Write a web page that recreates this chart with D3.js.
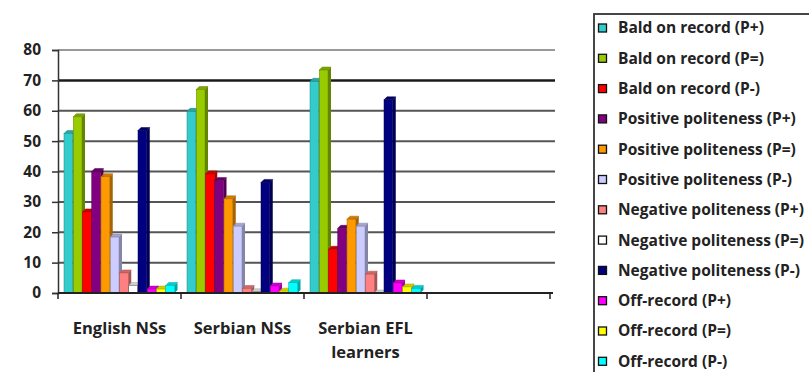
<!DOCTYPE html>
<html>
<head>
<meta charset="utf-8">
<script src="https://cdnjs.cloudflare.com/ajax/libs/d3/7.8.5/d3.min.js"></script>
<style>
  body { margin: 0; background: #fff; }
  svg { display: block; font-family: "Open Sans", "DejaVu Sans", sans-serif; }
</style>
</head>
<body>
<div id="chart"></div>
<script>
// data
var groups = ['English NSs', 'Serbian NSs', 'Serbian EFL learners', ''];
var seriesNames = [
    'Bald on record (P+)', 'Bald on record (P=)', 'Bald on record (P-)',
    'Positive politeness (P+)', 'Positive politeness (P=)', 'Positive politeness (P-)',
    'Negative politeness (P+)', 'Negative politeness (P=)', 'Negative politeness (P-)',
    'Off-record (P+)', 'Off-record (P=)', 'Off-record (P-)'
];
var englishNSs = [52.5, 58, 26.7, 40, 38.3, 18.4, 6.6, 2.5, 53.5, 1.3, 1.3, 2.5];
var serbianNSs = [59.8, 67, 39.2, 37, 31, 22, 1.5, 0.4, 36.4, 2.3, 0.6, 3.4];
var serbianEFL = [69.7, 73.4, 14.4, 21.3, 24.3, 22, 6.2, 0, 63.6, 3.3, 2, 1.5];
var yTicks = [0, 10, 20, 30, 40, 50, 60, 70, 80];
var colors = ['#33cccc', '#99cc00', '#ff0000', '#800080', '#ff9900', '#ccccff',
    '#ff8080', '#ffffff', '#000080', '#ff00ff', '#ffff00', '#00ffff'];

var values = [englishNSs, serbianNSs, serbianEFL];

var width = 809, height = 372;
var plotLeft = 58, plotRight = 550, plotTop = 50, plotBottom = 293;
var depth = 3;

var svg = d3.select('#chart')
    .append('svg')
    .attr('width', width)
    .attr('height', height);

var x = d3.scaleBand()
    .domain(groups.map((d, i) => i))
    .range([plotLeft, plotRight]);

var xs = d3.scaleBand()
    .domain(seriesNames)
    .range([6, x.bandwidth() - 6]);

var y = d3.scaleLinear()
    .domain([0, 80])
    .range([plotBottom, plotTop]);

// gridlines
svg.append('g')
    .selectAll('line')
    .data(yTicks.filter(d => d > 0))
    .enter()
    .append('line')
    .attr('x1', plotLeft)
    .attr('x2', plotRight + depth + 2)
    .attr('y1', d => y(d))
    .attr('y2', d => y(d))
    .attr('stroke', d => d === 70 ? '#1a1a1a' : (d === 80 ? '#999' : '#555'))
    .attr('stroke-width', d => d === 70 ? 2.5 : 2);

// y axis
var yAxis = d3.axisLeft(y)
    .tickValues(yTicks)
    .tickSize(6)
    .tickPadding(11);

var gy = svg.append('g')
    .attr('transform', `translate(${plotLeft},0)`)
    .call(yAxis);
gy.select('.domain').attr('stroke', '#333').attr('stroke-width', 1.5);
gy.selectAll('.tick line').attr('stroke', '#333').attr('stroke-width', 1.5);
gy.selectAll('.tick text')
    .attr('font-size', 15.5)
    .attr('font-weight', 'bold')
    .attr('fill', '#222')
    .style('font-family', '"Open Sans", sans-serif');

// bars
var bars = [];
values.forEach(function (arr, gi) {
    arr.forEach(function (v, si) {
        bars.push({ g: gi, s: si, v: v });
    });
});

var barG = svg.append('g').attr('class', 'bars');
var bw = xs.bandwidth() - 0.5;

bars.forEach(function (d) {
    var x0 = x(d.g) + xs(seriesNames[d.s]);
    var y0 = y(d.v);
    var h = y(0) - y0;
    var c = d3.color(colors[d.s]);
    var dark = c.darker(1.2).toString();
    var g = barG.append('g');
    // side face
    g.append('path')
        .attr('d', `M${x0 + bw},${y0} L${x0 + bw + depth},${y0 - depth} L${x0 + bw + depth},${y(0) - depth} L${x0 + bw},${y(0)} Z`)
        .attr('fill', dark);
    // top face
    g.append('path')
        .attr('d', `M${x0},${y0} L${x0 + depth},${y0 - depth} L${x0 + bw + depth},${y0 - depth} L${x0 + bw},${y0} Z`)
        .attr('fill', c.darker(0.6).toString())
        .attr('stroke', dark)
        .attr('stroke-width', 0.5);
    // front face
    g.append('rect')
        .attr('x', x0)
        .attr('y', y0)
        .attr('width', bw)
        .attr('height', h)
        .attr('fill', colors[d.s])
        .attr('stroke', d.s === 7 ? '#555' : dark)
        .attr('stroke-width', 0.5);
});

// x axis
var gx = svg.append('g')
    .attr('transform', `translate(0,${plotBottom})`);
gx.append('line')
    .attr('x1', plotLeft)
    .attr('x2', plotRight + depth)
    .attr('stroke', '#222')
    .attr('stroke-width', 1.8);
gx.selectAll('.tk')
    .data(d3.range(groups.length + 1))
    .enter()
    .append('line')
    .attr('x1', d => plotLeft + d * x.step())
    .attr('x2', d => plotLeft + d * x.step())
    .attr('y1', 0)
    .attr('y2', 6)
    .attr('stroke', '#222')
    .attr('stroke-width', 1.5);

// category labels
var labelLines = groups.map(g => g === 'Serbian EFL learners' ? ['Serbian EFL', 'learners'] : [g]);
labelLines.forEach(function (lines, i) {
    lines.forEach(function (t, j) {
        svg.append('text')
            .attr('x', x(i) + x.bandwidth() / 2)
            .attr('y', 334 + j * 24)
            .attr('text-anchor', 'middle')
            .attr('font-size', 16.5)
            .attr('font-weight', 'bold')
            .attr('fill', '#222')
            .text(t);
    });
});

// legend
var legend = svg.append('g').attr('class', 'legend');
legend.append('rect')
    .attr('x', 594)
    .attr('y', 14)
    .attr('width', 240)
    .attr('height', 380)
    .attr('fill', '#fff')
    .attr('stroke', '#333')
    .attr('stroke-width', 1.8);

var items = legend.selectAll('.item')
    .data(seriesNames)
    .enter()
    .append('g')
    .attr('transform', (d, i) => `translate(598,${28 + i * 30.3})`);

items.append('rect')
    .attr('x', 0.5)
    .attr('y', -4)
    .attr('width', 8)
    .attr('height', 8)
    .attr('fill', (d, i) => colors[i])
    .attr('stroke', '#111')
    .attr('stroke-width', 1.3);

items.append('text')
    .attr('x', 20)
    .attr('dy', '0.35em')
    .attr('font-size', 15.5)
    .attr('font-weight', 'bold')
    .attr('fill', '#222')
    .text(d => d);
</script>
</body>
</html>
